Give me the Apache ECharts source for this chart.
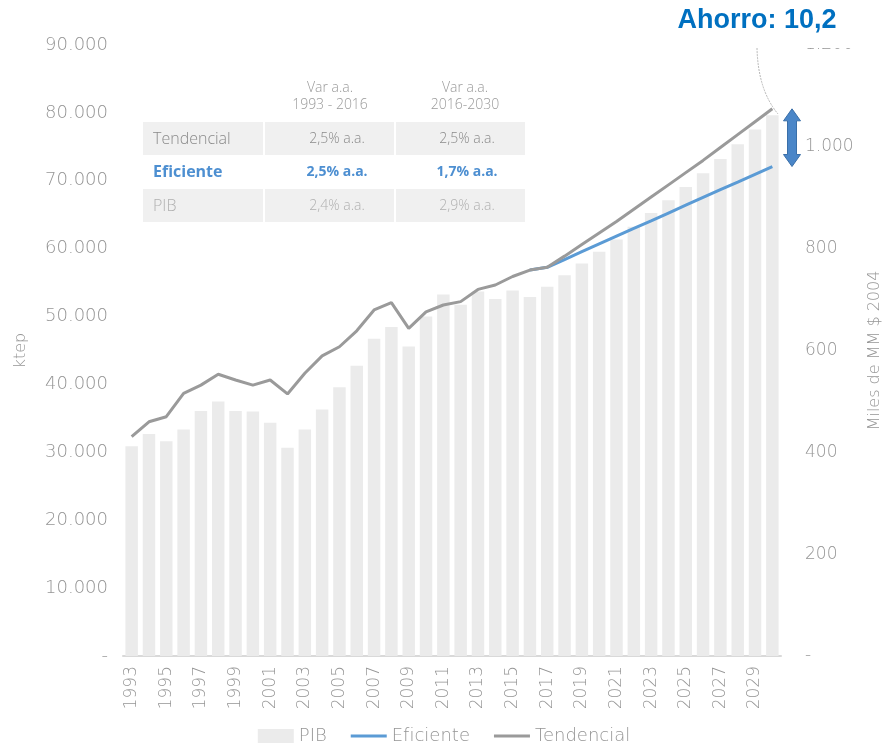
<!DOCTYPE html>
<html lang="es">
<head>
<meta charset="UTF-8">
<title>Consumo de energía vs PIB</title>
<style>
  html, body { margin: 0; padding: 0; background: #fff; }
  #chart { width: 888px; height: 750px; }
</style>
</head>
<body>
<div id="chart"></div>
<script src="https://cdn.jsdelivr.net/npm/echarts@6/dist/echarts.min.js"></script>
<script>
// años 1993 - 2030
const years = ['1993','1994','1995','1996','1997','1998','1999','2000','2001','2002',
  '2003','2004','2005','2006','2007','2008','2009','2010','2011','2012',
  '2013','2014','2015','2016','2017','2018','2019','2020','2021','2022',
  '2023','2024','2025','2026','2027','2028','2029','2030'];

// PIB, miles de MM $ 2004 (eje derecho)
const pib = [412, 436, 422, 445, 481, 500, 481, 480, 458, 409,
  445, 484, 528, 570, 623, 646, 608, 667, 710, 690,
  716, 701, 718, 705, 725, 748, 771, 794, 818, 843,
  870, 895, 921, 948, 976, 1005, 1034, 1062];

// consumo tendencial, ktep (eje izquierdo)
const tendencial = [32300, 34500, 35250, 38700, 39900, 41500, 40650, 39900, 40650, 38600,
  41650, 44200, 45550, 47900, 50970, 52050, 48250, 50700, 51700, 52200,
  54000, 54650, 55900, 56850, 57250, 58900, 60600, 62300, 64000, 65800,
  67600, 69400, 71200, 73000, 74900, 76800, 78700, 80600];

// consumo eficiente, ktep (desde 2016)
const eficiente = [null, null, null, null, null, null, null, null, null, null,
  null, null, null, null, null, null, null, null, null, null,
  null, null, null, 56850, 57250, 58400, 59550, 60700, 61850, 63000,
  64100, 65250, 66400, 67550, 68700, 69800, 70950, 72100];

const tableCols = ['Var a.a.\n1993 - 2016', 'Var a.a.\n2016-2030'];
const tableRows = [
  ['Tendencial', '2,5% a.a.', '2,5% a.a.'],
  ['Eficiente', '2,5% a.a.', '1,7% a.a.'],
  ['PIB', '2,4% a.a.', '2,9% a.a.']
];
const ahorroLabel = 'Ahorro: 10,2';

const FONT = '"DejaVu Sans"';
const TFONT = '"Open Sans"';
const GREY = '#959595';
const BLUE = '#5b9bd5';
const LINE_ICON = 'path://M0,0H36V3H0Z';

function fmt(v) {
  if (v === 0) return '-';
  return String(v).replace(/\B(?=(\d{3})+(?!\d))/g, '.');
}

// tabla de variaciones
const table = [];
const colX = [143, 265, 396];
const colW = [120, 129, 129];
tableCols.forEach((t, i) => {
  table.push({
    type: 'text', x: [330, 465][i], y: 80,
    style: { text: t, fill: '#9a9a9a', font: '300 14px ' + TFONT, textAlign: 'center', lineHeight: 17 }
  });
});
tableRows.forEach((row, r) => {
  const y = 122 + r * 33.5;
  if (r !== 1) {
    colX.forEach((x, c) => {
      table.push({ type: 'rect', shape: { x: x, y: y, width: colW[c], height: 33 }, style: { fill: '#f0f0f0' } });
    });
  }
  const isEf = r === 1;
  const color = isEf ? '#4d8fd1' : (r === 2 ? '#b0b0b0' : '#8a8a8a');
  const weight = isEf ? 'bold ' : '300 ';
  table.push({ type: 'text', x: 153, y: y + 17, style: { text: row[0], fill: color, font: weight + '16px ' + TFONT, textVerticalAlign: 'middle' } });
  table.push({ type: 'text', x: 337, y: y + 17, style: { text: row[1], fill: color, font: weight + '14px ' + TFONT, textAlign: 'center', textVerticalAlign: 'middle' } });
  table.push({ type: 'text', x: 467, y: y + 17, style: { text: row[2], fill: color, font: weight + '14px ' + TFONT, textAlign: 'center', textVerticalAlign: 'middle' } });
});

const option = {
  backgroundColor: '#fff',
  textStyle: { fontFamily: FONT, fontWeight: 200 },
  animation: false,
  grid: { left: 123, right: 107, top: 45, bottom: 94, outerBoundsMode: 'none' },
  legend: {
    data: [
      { name: 'PIB', icon: 'rect' },
      { name: 'Eficiente', icon: LINE_ICON },
      { name: 'Tendencial', icon: LINE_ICON }
    ],
    bottom: 0,
    left: 'center',
    itemWidth: 36,
    itemHeight: 14,
    itemGap: 24,
    textStyle: { color: GREY, fontSize: 18, fontFamily: FONT, fontWeight: 200 }
  },
  xAxis: {
    type: 'category',
    data: years,
    axisLine: { lineStyle: { color: '#d9d9d9', width: 2 } },
    axisTick: { show: false },
    axisLabel: { rotate: 90, interval: 1, color: GREY, fontSize: 17, margin: 10 }
  },
  yAxis: [{
    type: 'value',
    name: 'ktep',
    nameLocation: 'middle',
    nameGap: 94,
    nameTextStyle: { color: GREY, fontSize: 16 },
    min: 0, max: 90000, interval: 10000,
    splitLine: { show: false },
    axisLine: { show: false },
    axisTick: { show: false },
    axisLabel: { color: GREY, fontSize: 18, margin: 15, formatter: fmt }
  }, {
    type: 'value',
    name: 'Miles de MM $ 2004',
    nameLocation: 'middle',
    nameGap: 86,
    nameTextStyle: { color: GREY, fontSize: 16 },
    min: 0, max: 1200, interval: 200,
    splitLine: { show: false },
    axisLine: { show: false },
    axisTick: { show: false },
    axisLabel: { color: GREY, fontSize: 17, margin: 24, formatter: fmt }
  }],
  series: [{
    name: 'PIB',
    type: 'bar',
    yAxisIndex: 1,
    data: pib,
    barCategoryGap: '28%',
    itemStyle: { color: '#ebebeb' }
  }, {
    name: 'Eficiente',
    type: 'line',
    yAxisIndex: 0,
    data: eficiente,
    symbol: 'none',
    lineStyle: { color: BLUE, width: 3 },
    itemStyle: { color: BLUE }
  }, {
    name: 'Tendencial',
    type: 'line',
    yAxisIndex: 0,
    data: tendencial,
    symbol: 'none',
    lineStyle: { color: '#9a9a9a', width: 3 },
    itemStyle: { color: '#9a9a9a' }
  }],
  graphic: table
};

const chart = echarts.init(document.getElementById('chart'));
chart.setOption(option);

// flecha de ahorro entre tendencial y eficiente en 2030
const last = years.length - 1;
const yTop = chart.convertToPixel({ yAxisIndex: 0 }, tendencial[last]);
const yBot = chart.convertToPixel({ yAxisIndex: 0 }, eficiente[last]);
const ax = 792, hw = 8.5, sw = 4.5, hl = 12;
chart.setOption({
  graphic: table.concat([
    { type: 'rect', shape: { x: 600, y: 0, width: 288, height: 48 }, style: { fill: '#fff' }, z: 50 },
    { type: 'text', x: 757, y: 21, z: 60,
      style: { text: ahorroLabel, fill: '#0070c0', font: 'bold 27px "Liberation Sans", Arial', textAlign: 'center', textVerticalAlign: 'middle' } },
    { type: 'bezierCurve', z: 55,
      shape: { x1: 757, y1: 48, cpx1: 758, cpy1: 90, x2: 778, y2: 114 },
      style: { stroke: '#b8b8b8', lineWidth: 1, lineDash: [2, 1], fill: null } },
    { type: 'polygon', z: 60,
      shape: { points: [
        [ax, yTop], [ax + hw, yTop + hl], [ax + sw, yTop + hl], [ax + sw, yBot - hl], [ax + hw, yBot - hl],
        [ax, yBot], [ax - hw, yBot - hl], [ax - sw, yBot - hl], [ax - sw, yTop + hl], [ax - hw, yTop + hl]
      ] },
      style: { fill: '#4a86c8', stroke: '#3a6fa8', lineWidth: 1 } }
  ])
});
</script>
</body>
</html>
